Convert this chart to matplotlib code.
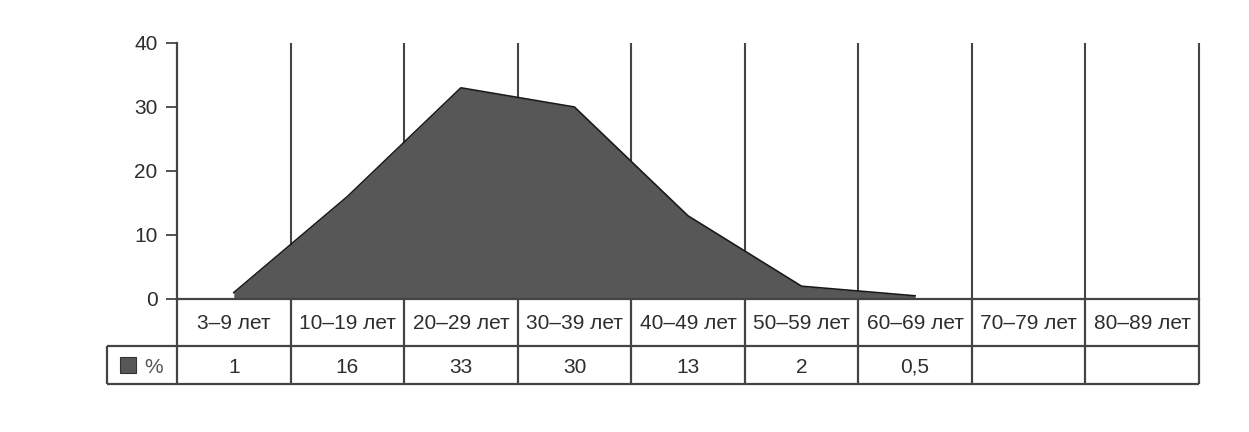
import matplotlib
matplotlib.use("Agg")
import matplotlib.pyplot as plt
import numpy as np
from matplotlib.patches import Rectangle

plt.rcParams["font.family"] = ["Liberation Sans", "DejaVu Sans"]

# age groups and share of cases, %
age_groups = ["3–9 лет", "10–19 лет", "20–29 лет", "30–39 лет", "40–49 лет",
              "50–59 лет", "60–69 лет", "70–79 лет", "80–89 лет"]
share_pct = [1, 16, 33, 30, 13, 2, 0.5, None, None]
share_txt = ["1", "16", "33", "30", "13", "2", "0,5", "", ""]
series_name = "%"

FILL = "#575757"
LINE = "#444444"
TXT = "#2e2e2e"

W, H = 1249, 432


def box(x0, y0, x1, y1):
    # pixel box (top-left origin) -> figure fraction rect
    return [x0 / W, 1 - y1 / H, (x1 - x0) / W, (y1 - y0) / H]


fig = plt.figure(figsize=(W / 100, H / 100), dpi=100)
ax = fig.add_axes(box(177, 43, 1199, 299))
tab = fig.add_axes(box(177, 299, 1199, 384), sharex=ax)

n = len(age_groups)
x = np.arange(n)
vals = np.array([np.nan if v is None else v for v in share_pct], dtype=float)
ok = ~np.isnan(vals)
edges = np.arange(n + 1) - 0.5

# --- chart area: grid lines sit behind the filled area ---
ax.vlines(edges[1:], 0, 40, color=LINE, lw=1.5, zorder=1, clip_on=False)
ax.fill_between(x[ok], vals[ok], 0, color=FILL, lw=0, zorder=2)
ax.plot(x[ok], vals[ok], color="#1a1a1a", lw=1.2, zorder=3)
ax.axhline(0, color=LINE, lw=1.6, zorder=4, clip_on=False)

ax.set_xlim(-0.5, n - 0.5)
ax.set_ylim(0, 40)
ax.set_yticks([0, 10, 20, 30, 40])
ax.set_xticks([])
for s in ("top", "right", "bottom"):
    ax.spines[s].set_visible(False)
ax.spines["left"].set_color(LINE)
ax.spines["left"].set_linewidth(1.6)
ax.tick_params(axis="y", length=8, width=1.3, color=LINE, pad=6,
               labelsize=15, labelcolor=TXT)

# --- data table below ---
LEG_W = 0.616
SPLIT = 0.45
tab.set_ylim(0, 1)
tab.axis("off")
tab.vlines(edges, 0, 1, color=LINE, lw=1.6, clip_on=False)
tab.vlines(-0.5 - LEG_W, 0, SPLIT, color=LINE, lw=1.6, clip_on=False)
tab.hlines([0, SPLIT], -0.5 - LEG_W, n - 0.5, color=LINE, lw=1.6, clip_on=False)

for i in range(n):
    tab.text(x[i], 0.645, age_groups[i], ha="center", va="baseline",
             fontsize=15, color=TXT)
    tab.text(x[i], 0.13, share_txt[i], ha="center", va="baseline",
             fontsize=15, color=TXT)

tab.add_patch(Rectangle((-0.5 - LEG_W + 0.115, 0.13), 0.14, 0.19,
                        facecolor=FILL, edgecolor="#333333", lw=0.8, clip_on=False))
tab.text(-0.5 - LEG_W + 0.33, 0.13, series_name, ha="left", va="baseline",
         fontsize=15, color="#555555")

fig.savefig("out.png", dpi=100, facecolor="white")
